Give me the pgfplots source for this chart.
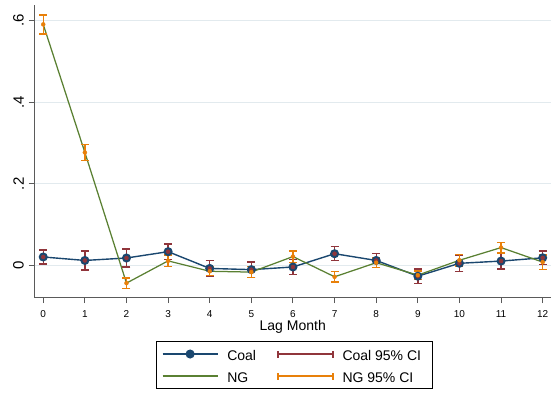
\documentclass[border=0pt]{standalone}
\usepackage{pgfplots}
\pgfplotsset{compat=1.18}
\usepackage{pgfplotstable}
\usepackage{fontspec}
\setmainfont{Liberation Sans}
\definecolor{snavy}{RGB}{26,71,111}
\definecolor{smaroon}{RGB}{144,53,59}
\definecolor{sgreen}{RGB}{90,128,50}
\definecolor{sorange}{RGB}{232,128,10}
\definecolor{sgrid}{RGB}{226,234,238}
\definecolor{saxis}{RGB}{90,90,90}
\pgfplotstableread{
x coal coale ng nge
0 0.0210 0.0170 0.5905 0.0235
1 0.0125 0.0230 0.2770 0.0200
2 0.0185 0.0220 -0.0430 0.0130
3 0.0340 0.0190 0.0115 0.0145
4 -0.0070 0.0190 -0.0140 0.0110
5 -0.0100 0.0190 -0.0160 0.0130
6 -0.0035 0.0185 0.0220 0.0140
7 0.0290 0.0170 -0.0275 0.0125
8 0.0125 0.0175 0.0070 0.0115
9 -0.0260 0.0180 -0.0235 0.0105
10 0.0055 0.0195 0.0130 0.0140
11 0.0110 0.0190 0.0440 0.0130
12 0.0190 0.0170 0.0085 0.0175
}\data
\begin{document}
\begin{tikzpicture}
\begin{axis}[
  name=ax, at={(0,0)}, anchor=south west,
  scale only axis, width=516.5pt, height=292pt,
  xmin=-0.21, xmax=12.2, ymin=-0.077, ymax=0.638,
  axis x line*=bottom, axis y line*=left,
  axis line style={saxis, line width=1pt, -},
  xtick={0,1,...,12},
  ytick={0,0.2,0.4,0.6}, yticklabels={0,.2,.4,.6},
  tick align=outside, major tick length=6pt,
  tick style={saxis, line width=1pt},
  ymajorgrids, major grid style={sgrid, line width=1pt},
  /pgf/number format/assume math mode=true,
  xticklabel style={font=\fontsize{10}{12}\selectfont},
  xticklabel shift=4pt,
  yticklabel style={rotate=90, anchor=south, inner sep=2pt, font=\fontsize{15}{17}\selectfont},
  yticklabel shift=2.5pt,
  xlabel={Lag Month},
  every axis x label/.style={at={(axis description cs:0.5,0)}, anchor=base, yshift=-33.7pt, font=\fontsize{14}{16}\selectfont},
  legend columns=2,
  legend cell align=left,
  legend style={at={(axis description cs:0.5034,-0.1497)}, anchor=north,
    draw=black, line width=1pt, inner xsep=5pt, inner ysep=4.4pt,
    font=\fontsize{14}{16}\selectfont,
    nodes={inner sep=0pt, text height=14.8pt, text depth=2pt},
    row sep=5.2pt,
    /tikz/every odd column/.append style={column sep=9pt},
    /tikz/every even column/.append style={column sep=21pt}},
]
\addplot[snavy, line width=1.4pt, mark=*, mark size=3.8pt, mark options={solid, fill=snavy},
  legend image code/.code={\draw[snavy, line width=1.4pt] (0pt,0pt) -- (55pt,0pt); \fill[snavy] (27.5pt,0pt) circle (3.8pt);}]
  table[x=x, y=coal] {\data};
\addlegendentry{Coal}
\addplot[smaroon, only marks, mark=none,
  error bars/.cd, y dir=both, y explicit,
  error bar style={smaroon, line width=1.4pt},
  error mark options={smaroon, line width=1.4pt, mark size=4pt, rotate=90},
  /pgfplots/legend image code/.code={\draw[smaroon, line width=1.4pt] (0pt,0pt) -- (55pt,0pt); \draw[smaroon, line width=1.4pt] (0pt,-3.5pt) -- (0pt,3.5pt); \draw[smaroon, line width=1.4pt] (55pt,-3.5pt) -- (55pt,3.5pt);}]
  table[x=x, y=coal, y error=coale] {\data};
\addlegendentry{Coal 95\% CI\hspace*{6pt}}
\addplot[sgreen, line width=1.25pt, mark=none,
  legend image code/.code={\draw[sgreen, line width=1.25pt] (0pt,0pt) -- (55pt,0pt);}]
  table[x=x, y=ng] {\data};
\addlegendentry{NG}
\addplot[sorange, only marks, mark=none,
  error bars/.cd, y dir=both, y explicit,
  error bar style={sorange, line width=1.4pt},
  error mark options={sorange, line width=1.4pt, mark size=4pt, rotate=90},
  /pgfplots/legend image code/.code={\draw[sorange, line width=1.4pt] (0pt,0pt) -- (55pt,0pt); \draw[sorange, line width=1.4pt] (0pt,-3.5pt) -- (0pt,3.5pt); \draw[sorange, line width=1.4pt] (55pt,-3.5pt) -- (55pt,3.5pt);}]
  table[x=x, y=ng, y error=nge] {\data};
\addlegendentry{NG 95\% CI}
\end{axis}
\pgfresetboundingbox
\path[use as bounding box] ([xshift=-34.5pt,yshift=-97pt]ax.south west) rectangle ++(551pt,394pt);
\end{tikzpicture}
\end{document}
